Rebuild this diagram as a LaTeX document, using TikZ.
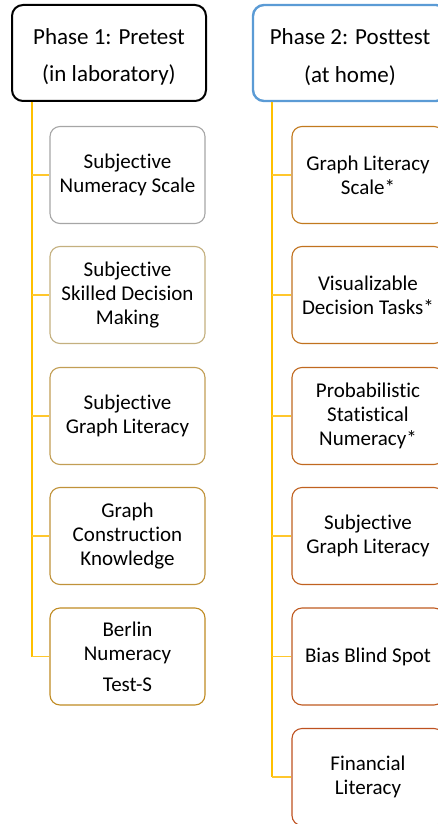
\documentclass[tikz,border=0pt]{standalone}
\usepackage{fontspec}
\setmainfont[Ligatures={NoCommon}]{Carlito}
\begin{document}
\begin{tikzpicture}[x=1pt,y=-1pt,
  phase/.style={draw, rounded corners=11pt, fill=white, minimum width=194pt, minimum height=96pt, inner sep=0pt},
  phasetext/.style={align=center, font=\fontsize{23}{37.5}\selectfont, inner sep=0pt},
  item/.style={draw, rounded corners=10pt, fill=white, minimum height=97pt,
    align=center, font=\fontsize{21}{24}\selectfont, inner sep=0pt, line width=1.1pt},
  litem/.style={item, minimum width=155pt},
  ritem/.style={item, minimum width=152pt},
  trunk/.style={draw=yellowline, line width=1.8pt},
  branch/.style={draw=yellowbranch, line width=1.5pt}
]
\definecolor{yellowline}{HTML}{FFC000}
\definecolor{yellowbranch}{HTML}{FFC72C}
\definecolor{blueline}{HTML}{5B9BD5}
\definecolor{lc1}{HTML}{A6A6A6}
\definecolor{lc2}{HTML}{C4B07F}
\definecolor{lc3}{HTML}{C29E55}
\definecolor{lc4}{HTML}{C0923A}
\definecolor{lc5}{HTML}{C08B22}
\definecolor{rc1}{HTML}{C27A1E}
\definecolor{rc2}{HTML}{C1721F}
\definecolor{rc3}{HTML}{C06920}
\definecolor{rc4}{HTML}{C06120}
\definecolor{rc5}{HTML}{BF5A20}
\definecolor{rc6}{HTML}{BE5120}
\useasboundingbox (0,0) rectangle (438,824);
\clip (0,0) rectangle (438,824);

\coordinate (t1) at (32,0);
\coordinate (t2) at (272,0);

% left column
\node[litem, draw=lc1] (L1) at (127.5,175) {Subjective\\Numeracy Scale};
\node[litem, draw=lc2] (L2) at (127.5,295) {Subjective\\Skilled Decision\\Making};
\node[litem, draw=lc3] (L3) at (127.5,416) {Subjective\\Graph Literacy};
\node[litem, draw=lc4] (L4) at (127.5,536) {Graph\\Construction\\Knowledge};
\node[litem, draw=lc5] (L5) at (127.5,656.5) {Berlin\\Numeracy\\[7pt]Test-S};

% right column
\node[ritem, draw=rc1] (R1) at (368,175) {Graph Literacy\\Scale*};
\node[ritem, draw=rc2] (R2) at (368,295) {Visualizable\\Decision Tasks*};
\node[ritem, draw=rc3] (R3) at (368,416) {Probabilistic\\Statistical\\Numeracy*};
\node[ritem, draw=rc4] (R4) at (368,536) {Subjective\\Graph Literacy};
\node[ritem, draw=rc5] (R5) at (368,656.5) {Bias Blind Spot};
\node[ritem, draw=rc6] (R6) at (368,777) {Financial\\Literacy};

% headers
\node[phase, draw=black, line width=2pt] (P1) at (109,53) {};
\node[phasetext] (P1t) at (109,57) {Phase 1: Pretest\\(in laboratory)};
\node[phase, draw=blueline, line width=2.4pt] (P2) at (350,53) {};
\node[phasetext] (P2t) at (350,57) {Phase 2: Posttest\\(at home)};

% connectors
\draw[trunk] (P1.south -| t1) -- (L5.west -| t1);
\draw[branch] (L1.west -| t1) -- (L1.west);
\draw[branch] (L2.west -| t1) -- (L2.west);
\draw[branch] (L3.west -| t1) -- (L3.west);
\draw[branch] (L4.west -| t1) -- (L4.west);
\draw[branch] (L5.west -| t1) -- (L5.west);
\draw[trunk] (P2.south -| t2) -- (R6.west -| t2);
\draw[branch] (R1.west -| t2) -- (R1.west);
\draw[branch] (R2.west -| t2) -- (R2.west);
\draw[branch] (R3.west -| t2) -- (R3.west);
\draw[branch] (R4.west -| t2) -- (R4.west);
\draw[branch] (R5.west -| t2) -- (R5.west);
\draw[branch] (R6.west -| t2) -- (R6.west);
\end{tikzpicture}
\end{document}
